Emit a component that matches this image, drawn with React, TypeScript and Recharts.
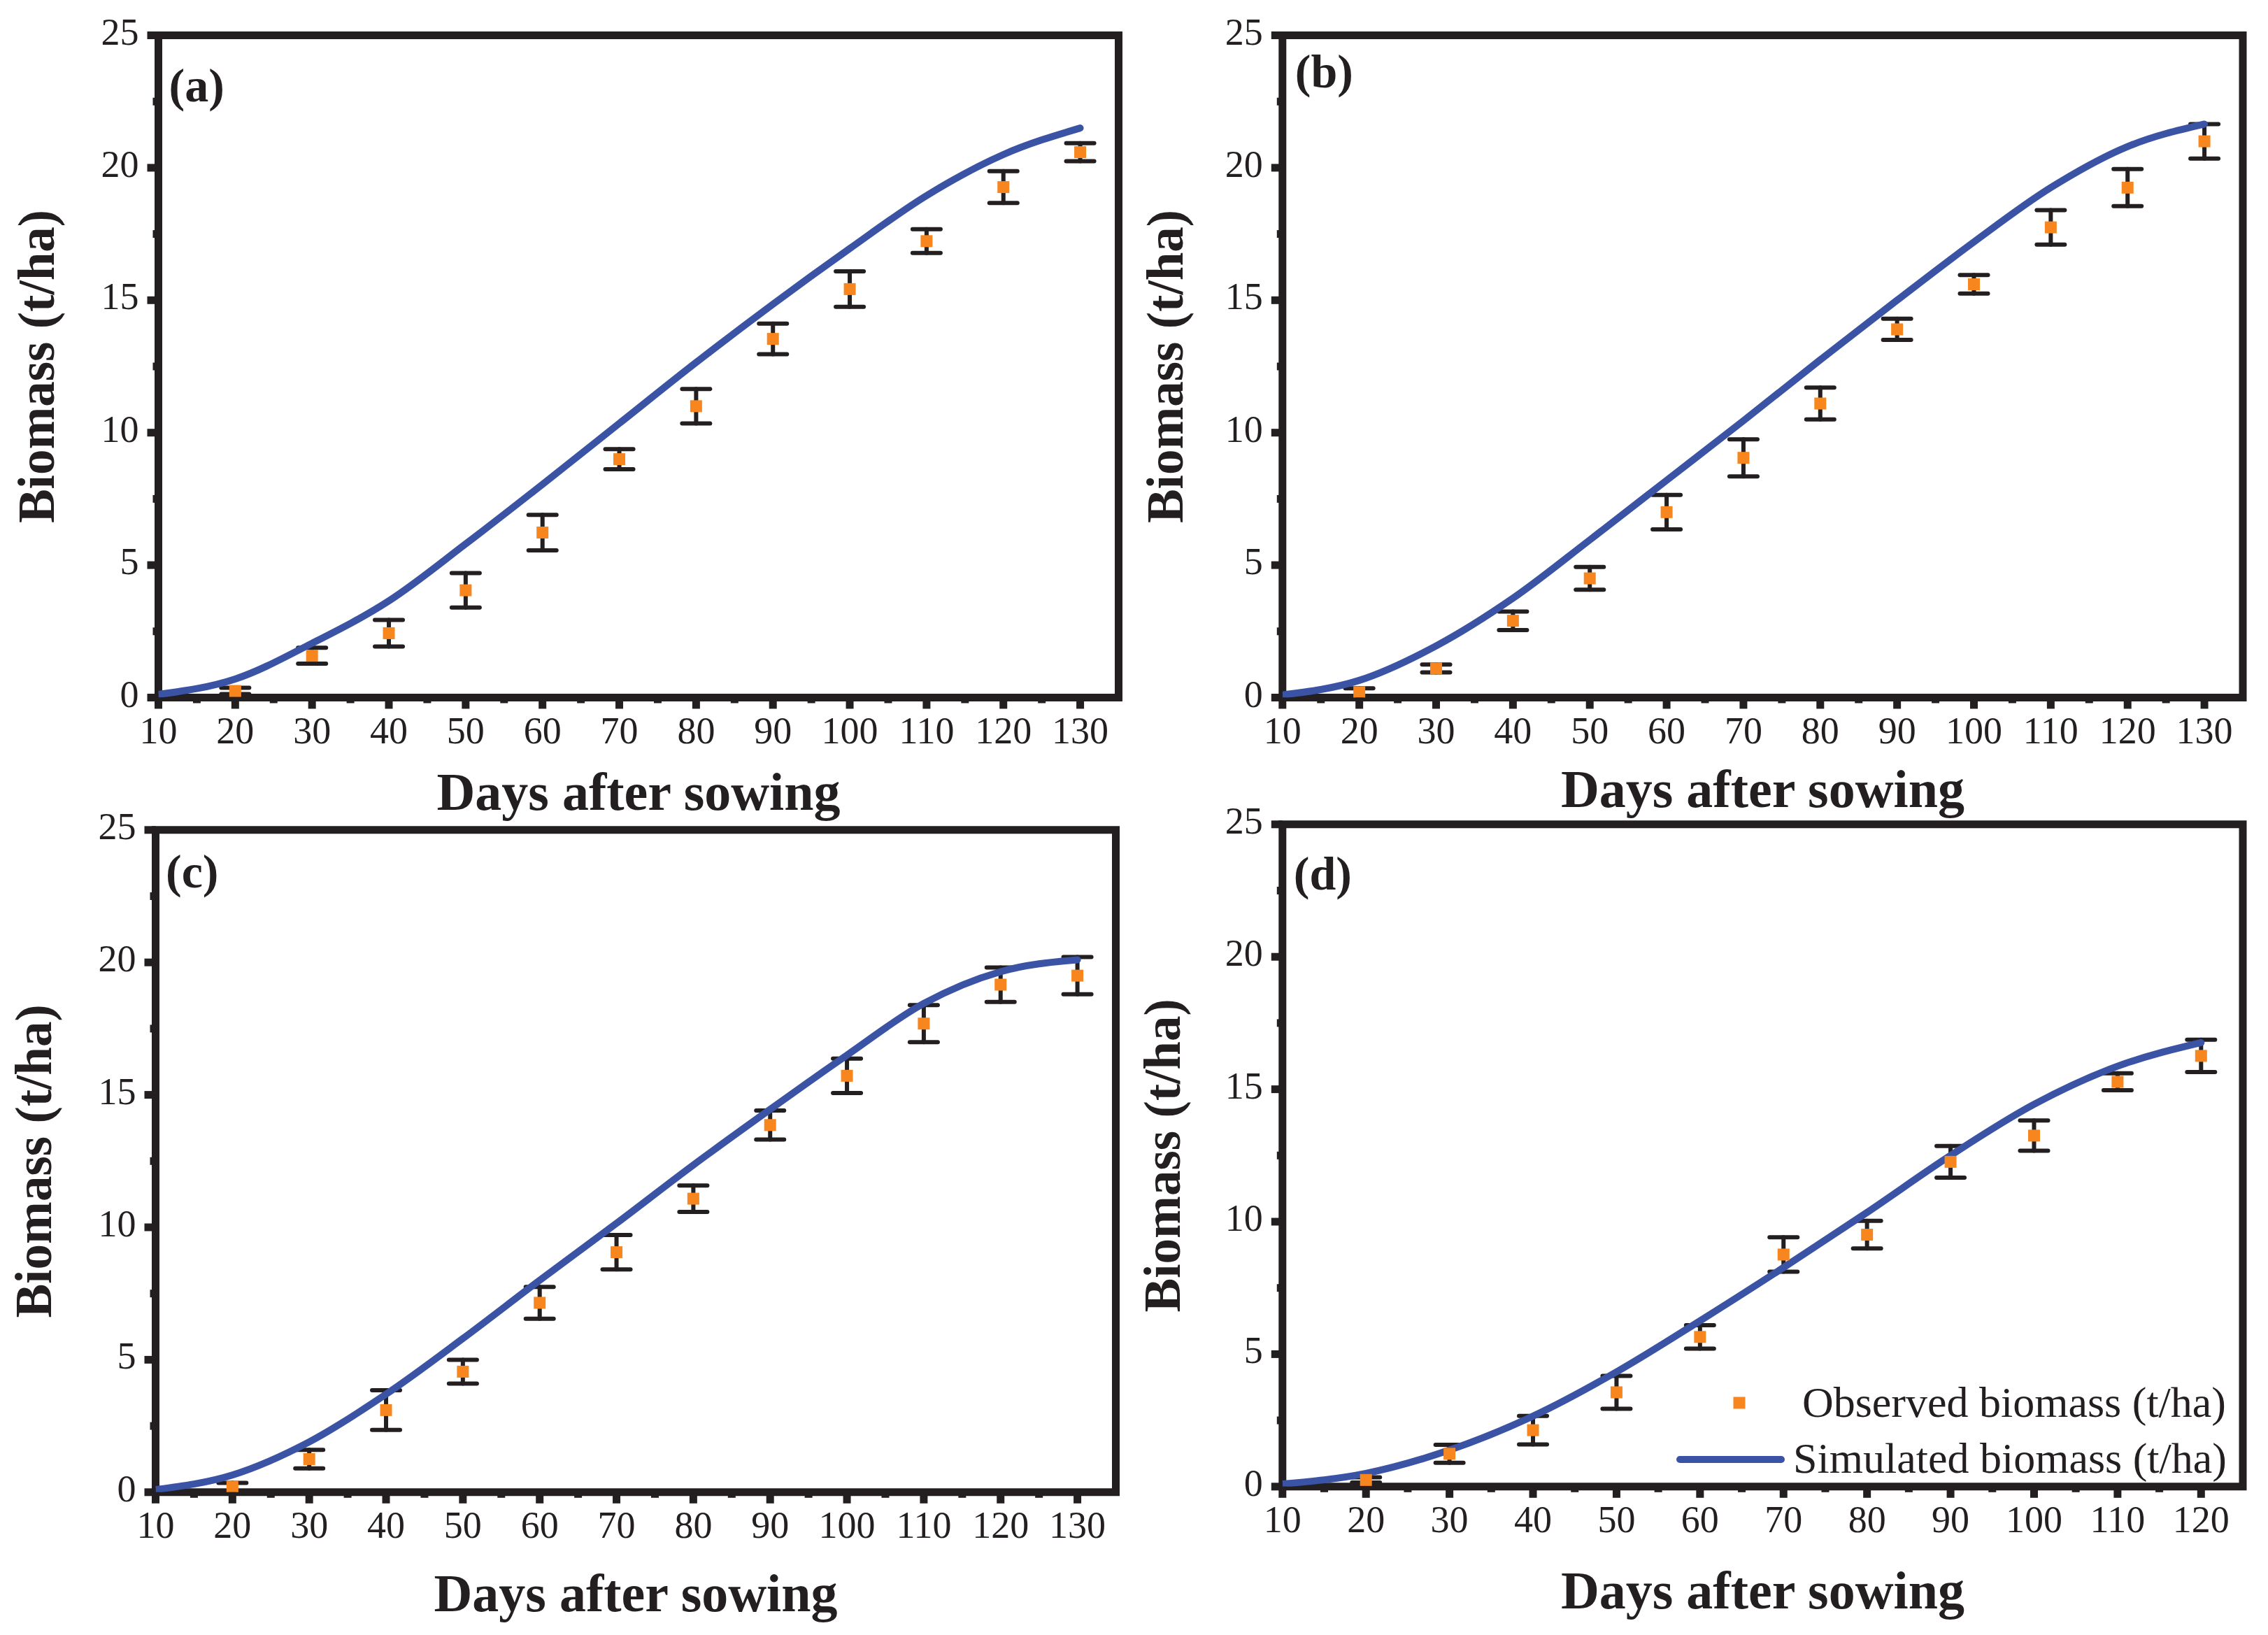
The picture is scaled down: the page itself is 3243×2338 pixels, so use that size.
import React from 'react';
import {
  ComposedChart,
  Line,
  Scatter,
  ErrorBar,
  XAxis,
  YAxis,
  ReferenceArea,
  Legend,
} from 'recharts';

const INK = '#231F20';
const BLUE = '#3A53A4';
const ORANGE = '#F7861F';
const FONT = "'Liberation Serif', 'Times New Roman', serif";

// ---------- axes / ticks ----------
const xTicks130 = [10, 15, 20, 25, 30, 35, 40, 45, 50, 55, 60, 65, 70, 75, 80, 85, 90, 95, 100, 105, 110, 115, 120, 125, 130];
const xTicks120 = [10, 15, 20, 25, 30, 35, 40, 45, 50, 55, 60, 65, 70, 75, 80, 85, 90, 95, 100, 105, 110, 115, 120];
const yTicks = [0, 2.5, 5, 7.5, 10, 12.5, 15, 17.5, 20, 22.5, 25];
const xTitle = 'Days after sowing';
const yTitle = 'Biomass (t/ha)';
const panelLabels = ['(a)', '(b)', '(c)', '(d)'];
const legendNames = ['Observed biomass (t/ha)', 'Simulated biomass (t/ha)'];

// ---------- observed days ----------
const obsDays130 = [20, 30, 40, 50, 60, 70, 80, 90, 100, 110, 120, 130];
const obsDays120 = [20, 30, 40, 50, 60, 70, 80, 90, 100, 110, 120];
const simDays130 = [10, 20, 30, 40, 50, 60, 70, 80, 90, 100, 110, 120, 130];
const simDays120 = [10, 20, 30, 40, 50, 60, 70, 80, 90, 100, 110, 120];

// ---------- panel (a) ----------
const obsA = [0.25, 1.58, 2.43, 4.05, 6.23, 9.0, 11.0, 13.54, 15.42, 17.23, 19.27, 20.59];
const errA = [0.12, 0.3, 0.5, 0.65, 0.67, 0.38, 0.65, 0.58, 0.67, 0.45, 0.6, 0.34];
const simA = [0.12, 0.7, 2.05, 3.65, 5.8, 8.05, 10.35, 12.65, 14.85, 16.95, 18.95, 20.5, 21.5];

// ---------- panel (b) ----------
const obsB = [0.2, 1.1, 2.9, 4.5, 7.0, 9.05, 11.1, 13.9, 15.6, 17.75, 19.25, 21.0];
const errB = [0.15, 0.15, 0.35, 0.43, 0.65, 0.7, 0.6, 0.4, 0.35, 0.65, 0.7, 0.65];
const simB = [0.1, 0.65, 1.95, 3.75, 5.95, 8.2, 10.45, 12.75, 15.0, 17.2, 19.25, 20.8, 21.65];

// ---------- panel (c) ----------
const obsC = [0.2, 1.25, 3.1, 4.55, 7.15, 9.06, 11.08, 13.86, 15.72, 17.69, 19.16, 19.5];
const errC = [0.15, 0.35, 0.75, 0.45, 0.6, 0.65, 0.5, 0.55, 0.65, 0.7, 0.65, 0.7];
const simC = [0.1, 0.65, 1.9, 3.7, 5.8, 8.0, 10.15, 12.35, 14.45, 16.5, 18.45, 19.65, 20.1];

// ---------- panel (d) ----------
const obsD = [0.25, 1.24, 2.13, 3.56, 5.65, 8.76, 9.51, 12.26, 13.25, 15.28, 16.26];
const errD = [0.1, 0.34, 0.54, 0.62, 0.44, 0.65, 0.52, 0.6, 0.57, 0.32, 0.61];
const simD = [0.1, 0.5, 1.38, 2.66, 4.33, 6.26, 8.27, 10.35, 12.5, 14.43, 15.87, 16.76];

const toObs = (days: number[], vals: number[], errs: number[]) =>
  days.map((d, i) => ({ x: d, y: vals[i], e: errs[i] }));
const toSim = (days: number[], vals: number[]) => days.map((d, i) => ({ x: d, y: vals[i] }));

function XTick(props: any) {
  const { x, y, payload } = props;
  const v = payload.value;
  const major = v % 10 === 0;
  return (
    <g>
      <line x1={x} x2={x} y1={y} y2={y + (major ? 16 : 8)} stroke={INK} strokeWidth={11} />
      {major && (
        <text x={x} y={y + 65.5} textAnchor="middle" fontSize={54} fontFamily={FONT} fill={INK}>
          {v}
        </text>
      )}
    </g>
  );
}

function YTick(props: any) {
  const { x, y, payload } = props;
  const v = payload.value;
  const major = v % 5 === 0;
  return (
    <g>
      <line x1={x} x2={x - (major ? 16 : 8)} y1={y} y2={y} stroke={INK} strokeWidth={11} />
      {major && (
        <text x={x - 28} y={y + 13} textAnchor="end" fontSize={54} fontFamily={FONT} fill={INK}>
          {v}
        </text>
      )}
    </g>
  );
}

const Square = (props: any) => {
  const { cx, cy } = props;
  if (cx == null || cy == null) return null;
  return <rect x={cx - 8.5} y={cy - 8.5} width={17} height={17} fill={ORANGE} />;
};

const LegendBox = () => (
  <svg width={820} height={180} style={{ display: 'block', overflow: 'visible' }}>
    <rect x={107 - 8.5} y={46 - 8.5} width={17} height={17} fill={ORANGE} />
    <text x={803} y={66} textAnchor="end" fontSize={62} fontFamily={FONT} fill={INK}>
      {legendNames[0]}
    </text>
    <line x1={22} x2={167} y1={127} y2={127} stroke={BLUE} strokeWidth={10} strokeLinecap="round" />
    <text x={804} y={146} textAnchor="end" fontSize={62} fontFamily={FONT} fill={INK}>
      {legendNames[1]}
    </text>
  </svg>
);

type PanelProps = {
  label: string;
  left: number;
  top: number;
  width: number;
  height: number;
  mTop: number;
  mRight: number;
  yW: number;
  xH: number;
  xMax: number;
  xTicks: number[];
  obs: { x: number; y: number; e: number }[];
  sim: { x: number; y: number }[];
  lab: [number, number];
  xTitleDy: number;
  yTitleDx: number;
  legend?: boolean;
};

function Panel(p: PanelProps) {
  return (
    <div style={{ position: 'absolute', left: p.left, top: p.top, width: p.width, height: p.height }}>
      <ComposedChart
        width={p.width}
        height={p.height}
        margin={{ top: p.mTop, right: p.mRight, left: 0, bottom: 0 }}
      >
        <XAxis
          dataKey="x"
          type="number"
          domain={[10, p.xMax]}
          ticks={p.xTicks}
          interval={0}
          allowDataOverflow
          height={p.xH}
          tickSize={0}
          tickMargin={0}
          tickLine={false}
          axisLine={false}
          tick={<XTick />}
          label={(lp: any) => {
            const vb = lp.viewBox;
            return (
              <text
                x={vb.x + vb.width / 2}
                y={vb.y + p.xTitleDy}
                textAnchor="middle"
                fontSize={76}
                fontWeight="bold"
                fontFamily={FONT}
                fill={INK}
              >
                {xTitle}
              </text>
            );
          }}
        />
        <YAxis
          type="number"
          domain={[0, 25]}
          ticks={yTicks}
          interval={0}
          allowDataOverflow
          width={p.yW}
          tickSize={0}
          tickMargin={0}
          tickLine={false}
          axisLine={false}
          tick={<YTick />}
          label={(lp: any) => {
            const vb = lp.viewBox;
            const cx = vb.x + vb.width - p.yTitleDx;
            const cy = vb.y + vb.height / 2;
            return (
              <text
                transform={`translate(${cx}, ${cy}) rotate(-90)`}
                textAnchor="middle"
                fontSize={73}
                fontWeight="bold"
                fontFamily={FONT}
                fill={INK}
              >
                {yTitle}
              </text>
            );
          }}
        />
        <ReferenceArea
          x1={10}
          x2={p.xMax}
          y1={0}
          y2={25}
          fill="none"
          fillOpacity={0}
          stroke={INK}
          strokeWidth={11}
          label={(lp: any) => {
            const vb = lp.viewBox;
            return (
              <text
                x={vb.x + p.lab[0]}
                y={vb.y + p.lab[1]}
                fontSize={68}
                fontWeight="bold"
                fontFamily={FONT}
                fill={INK}
              >
                {p.label}
              </text>
            );
          }}
        />
        <Scatter
          name={legendNames[0]}
          data={p.obs}
          dataKey="y"
          fill={ORANGE}
          shape={Square}
          isAnimationActive={false}
        >
          <ErrorBar dataKey="e" direction="y" width={20} stroke={INK} strokeWidth={6} strokeLinecap="round" />
        </Scatter>
        <Line
          name={legendNames[1]}
          data={p.sim}
          dataKey="y"
          type="monotone"
          stroke={BLUE}
          strokeWidth={10}
          strokeLinecap="round"
          dot={false}
          activeDot={false}
          isAnimationActive={false}
        />
        {p.legend && (
          <Legend
            layout="vertical"
            align="center"
            verticalAlign="middle"
            content={() => <LegendBox />}
            wrapperStyle={{ left: 760, top: 830, width: 820, height: 180 }}
          />
        )}
      </ComposedChart>
    </div>
  );
}

export default function App() {
  return (
    <div
      style={{
        position: 'absolute',
        left: 0,
        top: 0,
        width: 3243,
        height: 2338,
        background: '#ffffff',
        overflow: 'hidden',
      }}
    >
      <Panel
        label={panelLabels[0]}
        left={0}
        top={0}
        width={1640}
        height={1180}
        mTop={50.5}
        mRight={40.5}
        yW={226.5}
        xH={182.5}
        xMax={135}
        xTicks={xTicks130}
        obs={toObs(obsDays130, obsA, errA)}
        sim={toSim(simDays130, simA)}
        lab={[15, 94.5]}
        xTitleDy={160}
        yTitleDx={150}
      />
      <Panel
        label={panelLabels[1]}
        left={1620}
        top={0}
        width={1623}
        height={1180}
        mTop={50.5}
        mRight={36}
        yW={213.8}
        xH={182.5}
        xMax={135}
        xTicks={xTicks130}
        obs={toObs(obsDays130, obsB, errB)}
        sim={toSim(simDays130, simB)}
        lab={[18, 74]}
        xTitleDy={156}
        yTitleDx={143}
      />
      <Panel
        label={panelLabels[2]}
        left={0}
        top={1130}
        width={1640}
        height={1208}
        mTop={56.8}
        mRight={44.5}
        yW={222.5}
        xH={204.2}
        xMax={135}
        xTicks={xTicks130}
        obs={toObs(obsDays130, obsC, errC)}
        sim={toSim(simDays130, simC)}
        lab={[14.5, 82.5]}
        xTitleDy={170}
        yTitleDx={150}
      />
      <Panel
        label={panelLabels[3]}
        left={1620}
        top={1130}
        width={1623}
        height={1208}
        mTop={48.8}
        mRight={36}
        yW={213.8}
        xH={212.2}
        xMax={125}
        xTicks={xTicks120}
        obs={toObs(obsDays120, obsD, errD)}
        sim={toSim(simDays120, simD)}
        lab={[16, 93]}
        xTitleDy={174}
        yTitleDx={147}
        legend
      />
    </div>
  );
}
